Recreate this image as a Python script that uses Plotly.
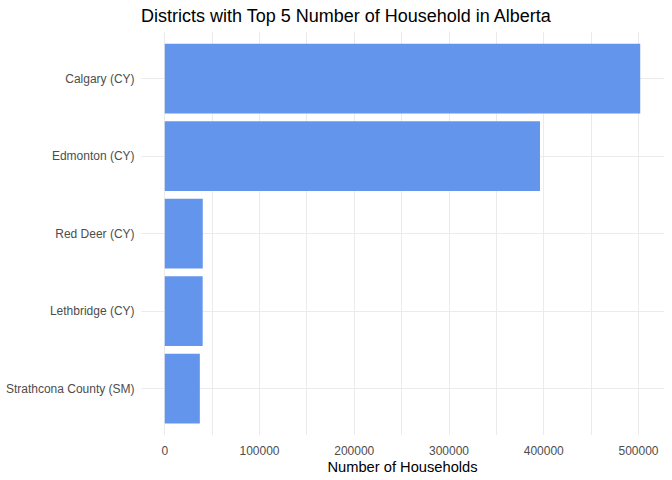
import plotly.graph_objects as go

districts = ["Calgary (CY)", "Edmonton (CY)", "Red Deer (CY)", "Lethbridge (CY)", "Strathcona County (SM)"]
households = [501800, 396000, 40100, 40000, 37000]
x_ticks = [0, 100000, 200000, 300000, 400000, 500000]

xmax = max(households)
fig = go.Figure(go.Bar(
    x=households, y=districts, orientation="h",
    marker=dict(color="#6495ED", line=dict(width=0)),
    width=0.9, hoverinfo="x+y",
))

fig.update_layout(
    width=672, height=480,
    margin=dict(l=141, r=8, t=32, b=45, autoexpand=False),
    paper_bgcolor="white", plot_bgcolor="white",
    font=dict(family="Liberation Sans, Arial, sans-serif"),
    title=dict(text="Districts with Top 5 Number of Household in Alberta",
               x=0, xanchor="left", xref="paper",
               y=1-16/480, yanchor="middle", yref="container",
               font=dict(size=18, color="black")),
    showlegend=False,
)
fig.update_xaxes(
    automargin=False,
    range=[-0.05*xmax, 1.05*xmax],
    tickvals=x_ticks, ticktext=[str(v) for v in x_ticks],
    showgrid=True, gridcolor="#EBEBEB", gridwidth=1,
    minor=dict(dtick=50000, tick0=0, showgrid=True, gridcolor="#EBEBEB", gridwidth=0.6),
    zeroline=False, showline=False,
    ticks="outside", ticklen=5, tickcolor="rgba(0,0,0,0)",
    tickfont=dict(size=12, color="#4D4D4D"),
    title=dict(text="Number of Households", font=dict(size=14.7, color="black"), standoff=4),
)
fig.update_yaxes(
    automargin=False,
    categoryorder="array", categoryarray=districts[::-1],
    range=[-0.6, len(districts)-0.4],
    showgrid=True, gridcolor="#EBEBEB", gridwidth=1,
    zeroline=False, showline=False,
    ticks="outside", ticklen=3, tickcolor="rgba(0,0,0,0)",
    tickfont=dict(size=12, color="#4D4D4D"),
)

fig.write_html("out.html", config={"displayModeBar": False},
               post_script="document.body.style.margin='0';")
